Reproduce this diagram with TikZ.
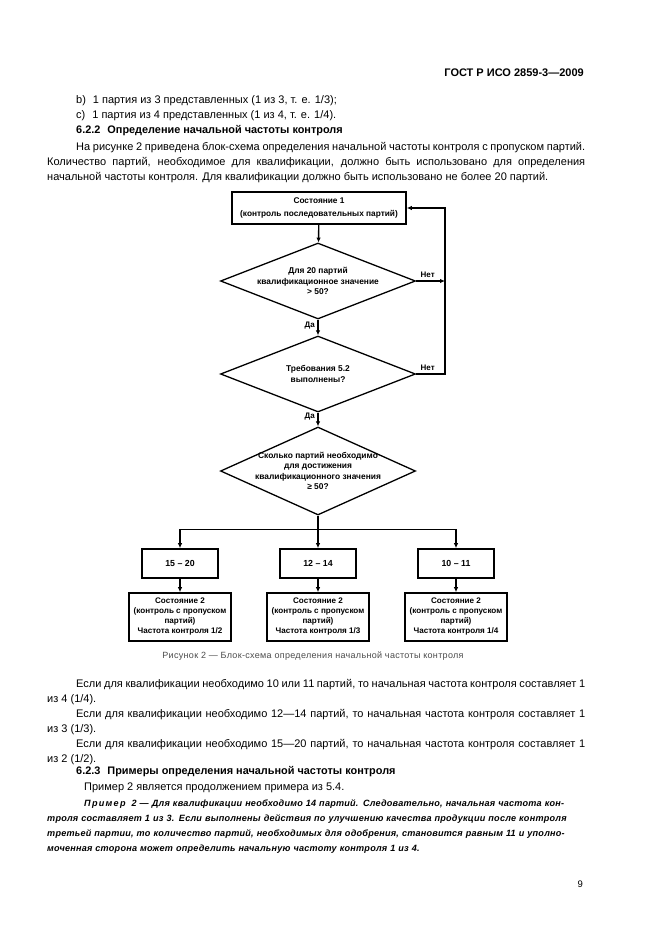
\documentclass[tikz,border=0pt]{standalone}
\usepackage{fontspec}
\setmainfont{Liberation Sans}
\usetikzlibrary{shapes.geometric,arrows.meta,positioning}
\hyphenpenalty=10000
\exhyphenpenalty=10000
\newcommand{\fullline}[1]{\makebox[\linewidth][s]{#1}}

\tikzset{
  block/.style={draw, line width=1.6pt, font=\bfseries\fontsize{8.3}{12.5}\selectfont, align=center, inner sep=1pt},
  rangebox/.style={block, font=\bfseries\fontsize{8.8}{10}\selectfont, minimum width=76pt, minimum height=29pt},
  statebox/.style={block, font=\bfseries\fontsize{8.1}{10}\selectfont, minimum width=102pt, minimum height=48pt},
  decision/.style={draw, diamond, line width=1.3pt, minimum width=195pt, minimum height=76pt, inner sep=0pt},
  dtext/.style={font=\bfseries\fontsize{8.4}{10.6}\selectfont, align=center, inner sep=0pt},
  lbl/.style={font=\bfseries\fontsize{8}{9}\selectfont, inner sep=2.5pt},
  link/.style={line width=1.4pt},
  arr/.style={link, -{Latex[length=5pt,width=4.5pt]}},
  para/.style={anchor=base west, inner sep=0pt, text width=538pt, align=justify,
    font=\fontsize{11}{15}\selectfont},
  textline/.style={anchor=base west, inner sep=0pt, font=\fontsize{11}{15}\selectfont},
  heading/.style={anchor=base west, inner sep=0pt, font=\bfseries\fontsize{10.9}{15}\selectfont},
  exbox/.style={anchor=base west, inner sep=0pt, text width=538pt, align=left,
    font=\bfseries\itshape\fontsize{9.1}{15.2}\selectfont\addfontfeature{LetterSpace=2.5}},
}

\begin{document}
\begin{tikzpicture}[x=1pt,y=-1pt]
\fill[white] (0,0) rectangle (661,936);
\useasboundingbox (0,0) rectangle (661,936);

% page text above the figure
\node[anchor=base east, inner sep=0pt, font=\bfseries\fontsize{11}{13}\selectfont] (gost) at (584,77) {ГОСТ Р ИСО 2859-3—2009};
\node[textline] (itemb) at (76,104) {b)\hspace{7pt}1 партия из 3 представленных (1 из 3, т. е. 1/3);};
\node[textline] (itemc) at (76,118.5) {c)\hspace{7pt}1 партия из 4 представленных (1 из 4, т. е. 1/4).};
\node[heading] (h622) at (76,134) {6.2.2\hspace{7pt}Определение начальной частоты контроля};
\node[para] (intro) at (47,151) {\hspace*{29pt}На рисунке 2 приведена блок-схема определения начальной частоты контроля с пропуском партий.\linebreak Количество партий, необходимое для квалификации, должно быть использовано для определения\linebreak начальной частоты контроля. Для квалификации должно быть использовано не более 20 партий.};

% flowchart
\node[block, minimum width=174pt, minimum height=32pt] (s1) at (319,208) {Состояние 1\\(контроль последовательных партий)};
\node[decision] (d1) at (318,281) {};
\node[dtext] (d1text) at (d1) {Для 20 партий\\квалификационное значение\\> 50?};
\node[decision] (d2) at (318,374) {};
\node[dtext] (d2text) at (d2) {Требования 5.2\\выполнены?};
\node[decision, minimum height=88pt] (d3) at (318,471) {};
\node[dtext] (d3text) at (d3) {Сколько партий необходимо\\для достижения\\квалификационного значения\\≥ 50?};

\node[rangebox] (r1) at (180,563.5) {15 – 20};
\node[rangebox] (r2) at (318,563.5) {12 – 14};
\node[rangebox] (r3) at (456,563.5) {10 – 11};
\node[statebox] (q1) at (180,617) {Состояние 2\\(контроль с пропуском\\партий)\\Частота контроля 1/2};
\node[statebox] (q2) at (318,617) {Состояние 2\\(контроль с пропуском\\партий)\\Частота контроля 1/3};
\node[statebox] (q3) at (456,617) {Состояние 2\\(контроль с пропуском\\партий)\\Частота контроля 1/4};

\coordinate (back) at (445,208);
\coordinate (bus) at (318,529.5);

\draw[arr] (s1) -- (d1);
\draw[arr] (d1) -- node[lbl, left, pos=0.35] {Да} (d2);
\draw[arr] (d2) -- node[lbl, left, pos=0.3] {Да} (d3);
\draw[arr] (d1.east) -- node[lbl, above, pos=0.4] {Нет} (d1.east -| back);
\draw[arr] (d2.east) -- node[lbl, above, pos=0.4] {Нет} (d2.east -| back) -- (back) -- (s1.east);
\draw[link] (d3.south) -- (bus);
\draw[arr] (bus) -| (r1);
\draw[arr] (bus) -- (r2);
\draw[arr] (bus) -| (r3);
\foreach \i in {1,2,3}
  \draw[arr] (r\i) -- (q\i);

\node[font=\fontsize{9}{11}\selectfont\addfontfeature{LetterSpace=3.5}, text=black!70, inner sep=0pt] (caption) at (313,656) {Рисунок 2 — Блок-схема определения начальной частоты контроля};

% page text below the figure
\node[para] (p10) at (47,687.5) {\hspace*{29pt}Если для квалификации необходимо 10 или 11 партий, то начальная частота контроля составляет 1\linebreak из 4 (1/4).};
\node[para] (p12) at (47,717.5) {\hspace*{29pt}Если для квалификации необходимо 12—14 партий, то начальная частота контроля составляет 1\linebreak из 3 (1/3).};
\node[para] (p15) at (47,747.5) {\hspace*{29pt}Если для квалификации необходимо 15—20 партий, то начальная частота контроля составляет 1\linebreak из 2 (1/2).};
\node[heading] (h623) at (76,774.5) {6.2.3\hspace{7pt}Примеры определения начальной частоты контроля};
\node[textline] (cont) at (84,790) {Пример 2 является продолжением примера из 5.4.};
\node[exbox] (ex2) at (47,806) {\fullline{\hspace*{37pt}{\addfontfeature{LetterSpace=14}Пример}\ \ 2 — Для квалификации необходимо 14 партий. Следовательно, начальная частота кон-}\\
\fullline{троля составляет 1 из 3. Если выполнены действия по улучшению качества продукции после контроля}\\
\fullline{третьей партии, то количество партий, необходимых для одобрения, становится равным 11 и уполно-}\\
моченная сторона может определить начальную частоту контроля 1 из 4.};
\node[anchor=base east, inner sep=0pt, font=\fontsize{9.5}{11}\selectfont] (pageno) at (583,887) {9};
\end{tikzpicture}
\end{document}
